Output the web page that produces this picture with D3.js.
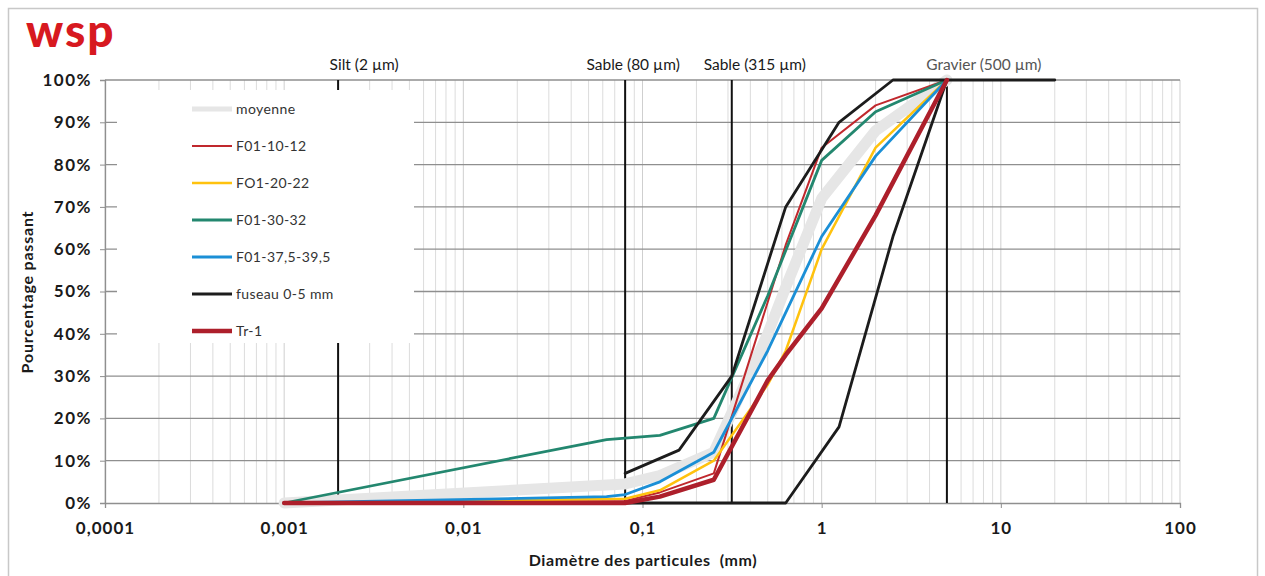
<!DOCTYPE html>
<html>
<head>
<meta charset="utf-8">
<script src="https://cdn.jsdelivr.net/npm/d3@7"></script>
<style>
  html, body { margin: 0; padding: 0; background: #fff; }
  svg { display: block; }
  text { font-family: Lato, "Open Sans", sans-serif; }
</style>
</head>
<body>
<svg id="chart" width="1265" height="576"></svg>
<script>
// Courbes granulométriques : pourcentage passant selon le diamètre (mm)
const sizesMoyenne = [0.001, 0.08, 0.125, 0.25, 0.5, 0.63, 1, 2, 5];
const moyenne      = [0, 4.5, 6.5, 12, 40, 51, 72, 88, 100];

const sizesF10 = [0.001, 0.08, 0.125, 0.25, 0.63, 1, 2, 5];
const f10      = [0, 0.5, 2.5, 7, 61, 84, 94, 100];

const sizesF20 = [0.001, 0.08, 0.125, 0.25, 0.5, 0.63, 1, 2, 5];
const f20      = [0, 1, 3, 10, 28, 36, 60, 84, 100];

const sizesF30 = [0.001, 0.063, 0.125, 0.25, 0.5, 1, 2, 5];
const f30      = [0, 15, 16, 20, 49, 81, 92.5, 100];

const sizesF37 = [0.001, 0.063, 0.08, 0.125, 0.25, 0.5, 1, 2, 5];
const f37      = [0, 1.5, 2, 5, 12, 36, 63, 82, 100];

const sizesFuseauHaut = [0.08, 0.16, 0.315, 0.63, 1.25, 2.5, 20];
const fuseauHaut      = [7, 12.5, 30, 70, 90, 100, 100];
const sizesFuseauBas  = [0.08, 0.63, 1.25, 2.5, 5];
const fuseauBas       = [0, 0, 18, 63, 100];

const sizesTr1 = [0.001, 0.08, 0.125, 0.25, 0.5, 0.63, 1, 2, 5];
const tr1      = [0, 0, 1.5, 5.5, 29, 35, 46, 68, 100];

// Limites de classes granulométriques
const limitSizes  = [0.002, 0.08, 0.315, 5];
const limitLabels = ["Silt (2 µm)", "Sable (80 µm)", "Sable (315 µm)", "Gravier (500 µm)"];

const xTicks = [0.0001, 0.001, 0.01, 0.1, 1, 10, 100];
const yTicks = [0, 10, 20, 30, 40, 50, 60, 70, 80, 90, 100];

const legendNames = ["moyenne", "F01-10-12", "FO1-20-22", "F01-30-32", "F01-37,5-39,5", "fuseau 0-5 mm", "Tr-1"];

// Styles
const styles = {
  "moyenne":       { color: "#e6e6e6", width: 11 },
  "F01-10-12":     { color: "#c0282d", width: 2 },
  "FO1-20-22":     { color: "#ffc20e", width: 2.5 },
  "F01-30-32":     { color: "#23876f", width: 2.8 },
  "F01-37,5-39,5": { color: "#1b8fd6", width: 2.8 },
  "fuseau 0-5 mm": { color: "#1c1c1c", width: 2.8 },
  "Tr-1":          { color: "#ad1f2b", width: 4.5 }
};

const seriesList = [
  { name: "moyenne",       sizes: sizesMoyenne,    values: moyenne },
  { name: "F01-10-12",     sizes: sizesF10,        values: f10 },
  { name: "FO1-20-22",     sizes: sizesF20,        values: f20 },
  { name: "F01-30-32",     sizes: sizesF30,        values: f30 },
  { name: "F01-37,5-39,5", sizes: sizesF37,        values: f37 },
  { name: "fuseau 0-5 mm", sizes: sizesFuseauHaut, values: fuseauHaut },
  { name: "fuseau 0-5 mm", sizes: sizesFuseauBas,  values: fuseauBas },
  { name: "Tr-1",          sizes: sizesTr1,        values: tr1 }
];

const svg = d3.select("#chart");
const plot = { left: 105, right: 1180, top: 80, bottom: 503 };

const x = d3.scaleLog().domain([0.0001, 100]).range([plot.left, plot.right]);
const y = d3.scaleLinear().domain([0, 100]).range([plot.bottom, plot.top]);

const fr = d3.formatLocale({ decimal: ",", thousands: " ", grouping: [3], currency: ["", " €"] });
const fmtX = fr.format("~g");

// Cadre
svg.append("rect")
  .attr("x", 8.5).attr("y", 8.5).attr("width", 1249).attr("height", 570)
  .attr("fill", "#fff").attr("stroke", "#c8c8c8").attr("stroke-width", 1.5);

// Logo
svg.append("text")
  .attr("x", 26).attr("y", 47)
  .attr("font-size", 46).attr("font-weight", 900)
  .attr("fill", "#d71920")
  .attr("letter-spacing", 2)
  .attr("font-family", "DejaVu Sans")
  .text("wsp");

// Quadrillage vertical (log)
const minor = [];
for (let e = -4; e < 2; e++) {
  for (let m = 2; m <= 9; m++) minor.push(m * Math.pow(10, e));
}
const grid = svg.append("g");
grid.selectAll("line.vminor").data(minor).join("line")
  .attr("x1", d => x(d)).attr("x2", d => x(d))
  .attr("y1", plot.top).attr("y2", plot.bottom)
  .attr("stroke", "#dcdcdc").attr("stroke-width", 1);
grid.selectAll("line.vmajor").data(xTicks).join("line")
  .attr("x1", d => x(d)).attr("x2", d => x(d))
  .attr("y1", plot.top).attr("y2", plot.bottom)
  .attr("stroke", "#cfcfcf").attr("stroke-width", 1);
// Quadrillage horizontal
grid.selectAll("line.h").data(yTicks.slice(1)).join("line")
  .attr("x1", plot.left).attr("x2", plot.right)
  .attr("y1", d => y(d)).attr("y2", d => y(d))
  .attr("stroke", "#8f8f8f").attr("stroke-width", 1.3);

// Axes
const xAxis = svg.append("g")
  .attr("transform", `translate(0,${plot.bottom})`)
  .call(d3.axisBottom(x).tickValues(xTicks).tickFormat(fmtX).tickSize(5).tickPadding(14));
const yAxis = svg.append("g")
  .attr("transform", `translate(${plot.left},0)`)
  .call(d3.axisLeft(y).tickValues(yTicks).tickFormat(d => d + "%").tickSize(5).tickPadding(8));
[xAxis, yAxis].forEach(a => {
  a.select(".domain").attr("stroke", "#8f8f8f").attr("stroke-width", 1.3);
  a.selectAll(".tick line").attr("stroke", "#8f8f8f");
  a.selectAll(".tick text")
    .attr("font-family", "Lato, sans-serif")
    .attr("font-size", 17).attr("font-weight", 700)
    .attr("fill", "#1a1a1a");
});
xAxis.selectAll(".tick text").attr("letter-spacing", 1);
yAxis.selectAll(".tick text").attr("letter-spacing", 1.5);

// Titres des axes
svg.append("text")
  .attr("x", 643).attr("y", 566)
  .attr("text-anchor", "middle")
  .attr("font-size", 16).attr("font-weight", 700).attr("fill", "#1a1a1a")
  .attr("letter-spacing", 0.6)
  .attr("xml:space", "preserve")
  .text("Diamètre des particules  (mm)");
svg.append("text")
  .attr("transform", "translate(33,292) rotate(-90)")
  .attr("text-anchor", "middle")
  .attr("font-size", 16).attr("font-weight", 700).attr("fill", "#1a1a1a")
  .attr("letter-spacing", 0.8)
  .text("Pourcentage passant");

// Limites de classes
const limitDx = [26, 8, 23, 37];
svg.append("g").selectAll("line").data(limitSizes).join("line")
  .attr("x1", d => x(d)).attr("x2", d => x(d))
  .attr("y1", plot.top).attr("y2", plot.bottom)
  .attr("stroke", "#111").attr("stroke-width", 2);
svg.append("g").selectAll("text").data(limitLabels).join("text")
  .attr("x", (d, i) => x(limitSizes[i]) + limitDx[i])
  .attr("y", 70)
  .attr("text-anchor", "middle")
  .attr("font-size", 15.5)
  .attr("fill", (d, i) => i === 3 ? "#555" : "#1a1a1a")
  .text(d => d);

// Courbes
const line = d3.line().x(d => x(d[0])).y(d => y(d[1]));
svg.append("g").selectAll("path").data(seriesList).join("path")
  .attr("d", s => line(s.sizes.map((v, i) => [v, s.values[i]])))
  .attr("fill", "none")
  .attr("stroke", s => styles[s.name].color)
  .attr("stroke-width", s => styles[s.name].width)
  .attr("stroke-linejoin", "round")
  .attr("stroke-linecap", "round");

// Légende
const lg = svg.append("g");
lg.append("rect")
  .attr("x", 117).attr("y", 90).attr("width", 297).attr("height", 253)
  .attr("fill", "#fff");
const rows = lg.selectAll("g.row").data(legendNames).join("g")
  .attr("transform", (d, i) => `translate(0,${109 + i * 37})`);
rows.append("line")
  .attr("x1", 192).attr("x2", 232).attr("y1", 0).attr("y2", 0)
  .attr("stroke", d => styles[d].color)
  .attr("stroke-width", d => Math.min(styles[d].width, 5));
rows.append("text")
  .attr("x", 236).attr("y", 5)
  .attr("font-size", 14).attr("fill", "#333")
  .attr("letter-spacing", 0.4)
  .text(d => d);
</script>
</body>
</html>
